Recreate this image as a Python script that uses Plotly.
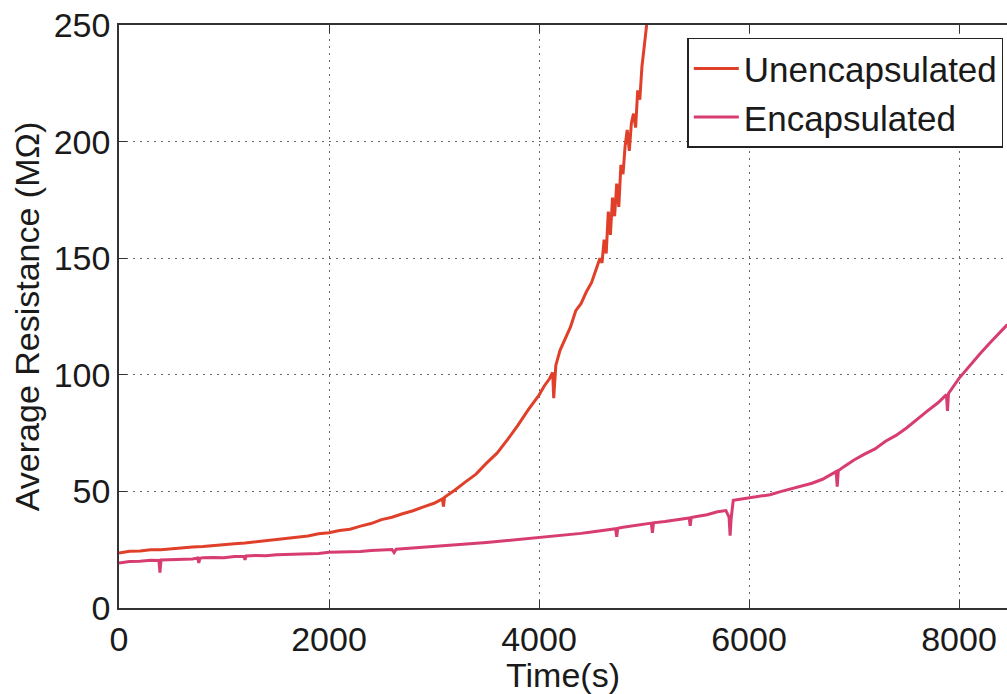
import plotly.graph_objects as go

# ---- data ----
unenc_t = [0, 100, 200, 300, 400, 500, 600, 700, 800, 900, 1000, 1100, 1200, 1300, 1400,
           1500, 1600, 1700, 1800, 1900, 2000, 2100, 2200, 2300, 2400, 2500, 2600, 2700,
           2800, 2900, 3000, 3080, 3090, 3100, 3200, 3300, 3400, 3500, 3600, 3700, 3800,
           3900, 4000, 4050, 4100, 4130, 4140, 4160, 4200, 4250, 4300, 4350, 4400, 4450,
           4500, 4550, 4580, 4600, 4620, 4640, 4660, 4680, 4700, 4720, 4740, 4760, 4780,
           4800, 4820, 4840, 4860, 4880, 4900, 4920, 4940, 4960, 4980, 5000, 5020, 5040]
unenc_r = [23.6, 24.3, 24.4, 25.0, 25.0, 25.5, 25.7, 26.2, 26.4, 26.9, 27.1, 27.6, 27.9, 28.4,
           28.8, 29.4, 29.7, 30.5, 30.9, 31.8, 32.3, 33.2, 33.8, 35.1, 36.2, 37.9, 38.9, 40.4,
           41.7, 43.4, 44.9, 46.8, 43.5, 47.5, 50.6, 54.1, 57.4, 62.1, 66.4, 72.2, 78.4,
           85.2, 91.3, 95.2, 98.3, 101.0, 90.0, 104.0, 110.5, 115.5, 120.5, 127.5, 130.5, 135.5,
           139.5, 146.0, 150.0, 148.0, 158.0, 152.0, 170.0, 160.0, 176.0, 168.0, 182.0, 172.0, 190.0,
           186.0, 198.0, 205.0, 196.0, 208.0, 212.0, 206.0, 222.0, 218.0, 232.0, 240.0, 248.0, 256.0]

enc_t = [0, 100, 200, 300, 380, 390, 400, 500, 600, 700, 750, 760, 770, 800, 900, 1000,
         1100, 1190, 1200, 1210, 1300, 1400, 1500, 1600, 1700, 1800, 1900, 2000, 2100, 2200,
         2300, 2400, 2500, 2600, 2620, 2640, 2700, 2800, 2900, 3000, 3100, 3200, 3300, 3400,
         3500, 3600, 3700, 3800, 3900, 4000, 4100, 4200, 4300, 4400, 4500, 4600, 4700, 4730,
         4740, 4750, 4800, 4900, 5000, 5070, 5080, 5090, 5200, 5300, 5400, 5430, 5440, 5450,
         5500, 5600, 5700, 5780, 5810, 5820, 5830, 5850, 5900, 6000, 6100, 6200, 6300, 6400,
         6500, 6600, 6700, 6800, 6830, 6840, 6850, 6900, 7000, 7100, 7200, 7300, 7400, 7500,
         7600, 7700, 7800, 7880, 7890, 7900, 8000, 8100, 8200, 8300, 8400, 8460]
enc_r = [19.3, 19.9, 20.1, 20.5, 20.4, 15.2, 20.6, 20.7, 21.1, 21.0, 21.4, 19.3, 21.3, 21.5,
         21.7, 21.6, 22.1, 22.2, 20.6, 22.3, 22.5, 22.4, 22.8, 23.0, 22.9, 23.3, 23.4, 23.9,
         24.0, 24.3, 24.2, 24.7, 25.0, 25.1, 23.8, 25.2, 25.4, 25.7, 26.0, 26.4, 26.7, 27.0,
         27.4, 27.8, 28.1, 28.5, 28.9, 29.3, 29.8, 30.1, 30.5, 31.0, 31.5, 32.0, 32.6, 33.2,
         33.9, 34.0, 30.5, 34.2, 34.6, 35.2, 35.9, 36.4, 32.2, 36.5, 37.1, 37.7, 38.4, 38.6,
         35.2, 38.8, 39.2, 40.0, 41.3, 41.8, 39.0, 31.0, 38.5, 46.2, 46.5, 47.1, 47.8, 48.6,
         49.9, 51.0, 52.3, 53.5, 55.2, 57.6, 58.5, 52.0, 58.8, 60.5, 63.5, 66.0, 68.2, 71.5,
         74.0, 77.2, 81.0, 84.5, 88.0, 91.5, 84.5, 92.0, 98.5, 104.0, 109.0, 114.0, 118.5, 121.5]

x_ticks = [0, 2000, 4000, 6000, 8000]
y_ticks = [0, 50, 100, 150, 200, 250]
series_names = ["Unencapsulated", "Encapsulated"]

FONT = "Liberation Sans, Arial, Helvetica, sans-serif"
GRID_DASH = "2px,5px"

fig = go.Figure()
fig.add_trace(go.Scatter(x=unenc_t, y=unenc_r, mode="lines", name=series_names[0],
                         line=dict(color="#e0402a", width=3)))
fig.add_trace(go.Scatter(x=enc_t, y=enc_r, mode="lines", name=series_names[1],
                         line=dict(color="#d83d72", width=3)))

fig.update_layout(
    width=1007, height=694,
    margin=dict(l=119, r=0, t=25, b=86, autoexpand=False),
    paper_bgcolor="white", plot_bgcolor="white",
    font=dict(family=FONT, size=34, color="#1a1a1a"),
    showlegend=True,
    legend=dict(x=0.64, y=0.978, xanchor="left", yanchor="top",
                bgcolor="white", bordercolor="#222", borderwidth=1.5,
                font=dict(size=35, color="#1a1a1a"), tracegroupgap=0,
                itemwidth=45),
)
fig.update_xaxes(
    range=[0, 8457], tickvals=x_ticks, ticktext=[str(v) for v in x_ticks],
    showline=True, linecolor="#333", linewidth=1.5, mirror="ticks",
    ticks="inside", ticklen=8, tickcolor="#333",
    showgrid=True, gridcolor="#666", griddash=GRID_DASH, gridwidth=1.2,
    zeroline=False,
    title=dict(text="Time(s)", standoff=0, font=dict(size=34)),
    tickfont=dict(size=34),
)
fig.update_yaxes(
    range=[0, 250], tickvals=y_ticks, ticktext=[str(v) for v in y_ticks],
    showline=True, linecolor="#333", linewidth=1.5, mirror=False,
    ticks="inside", ticklen=8, tickcolor="#333",
    showgrid=True, gridcolor="#666", griddash=GRID_DASH, gridwidth=1.2,
    zeroline=False,
    title=dict(text="Average Resistance (MΩ)", standoff=4, font=dict(size=34)),
    tickfont=dict(size=34),
)

fig.write_html("out.html")
